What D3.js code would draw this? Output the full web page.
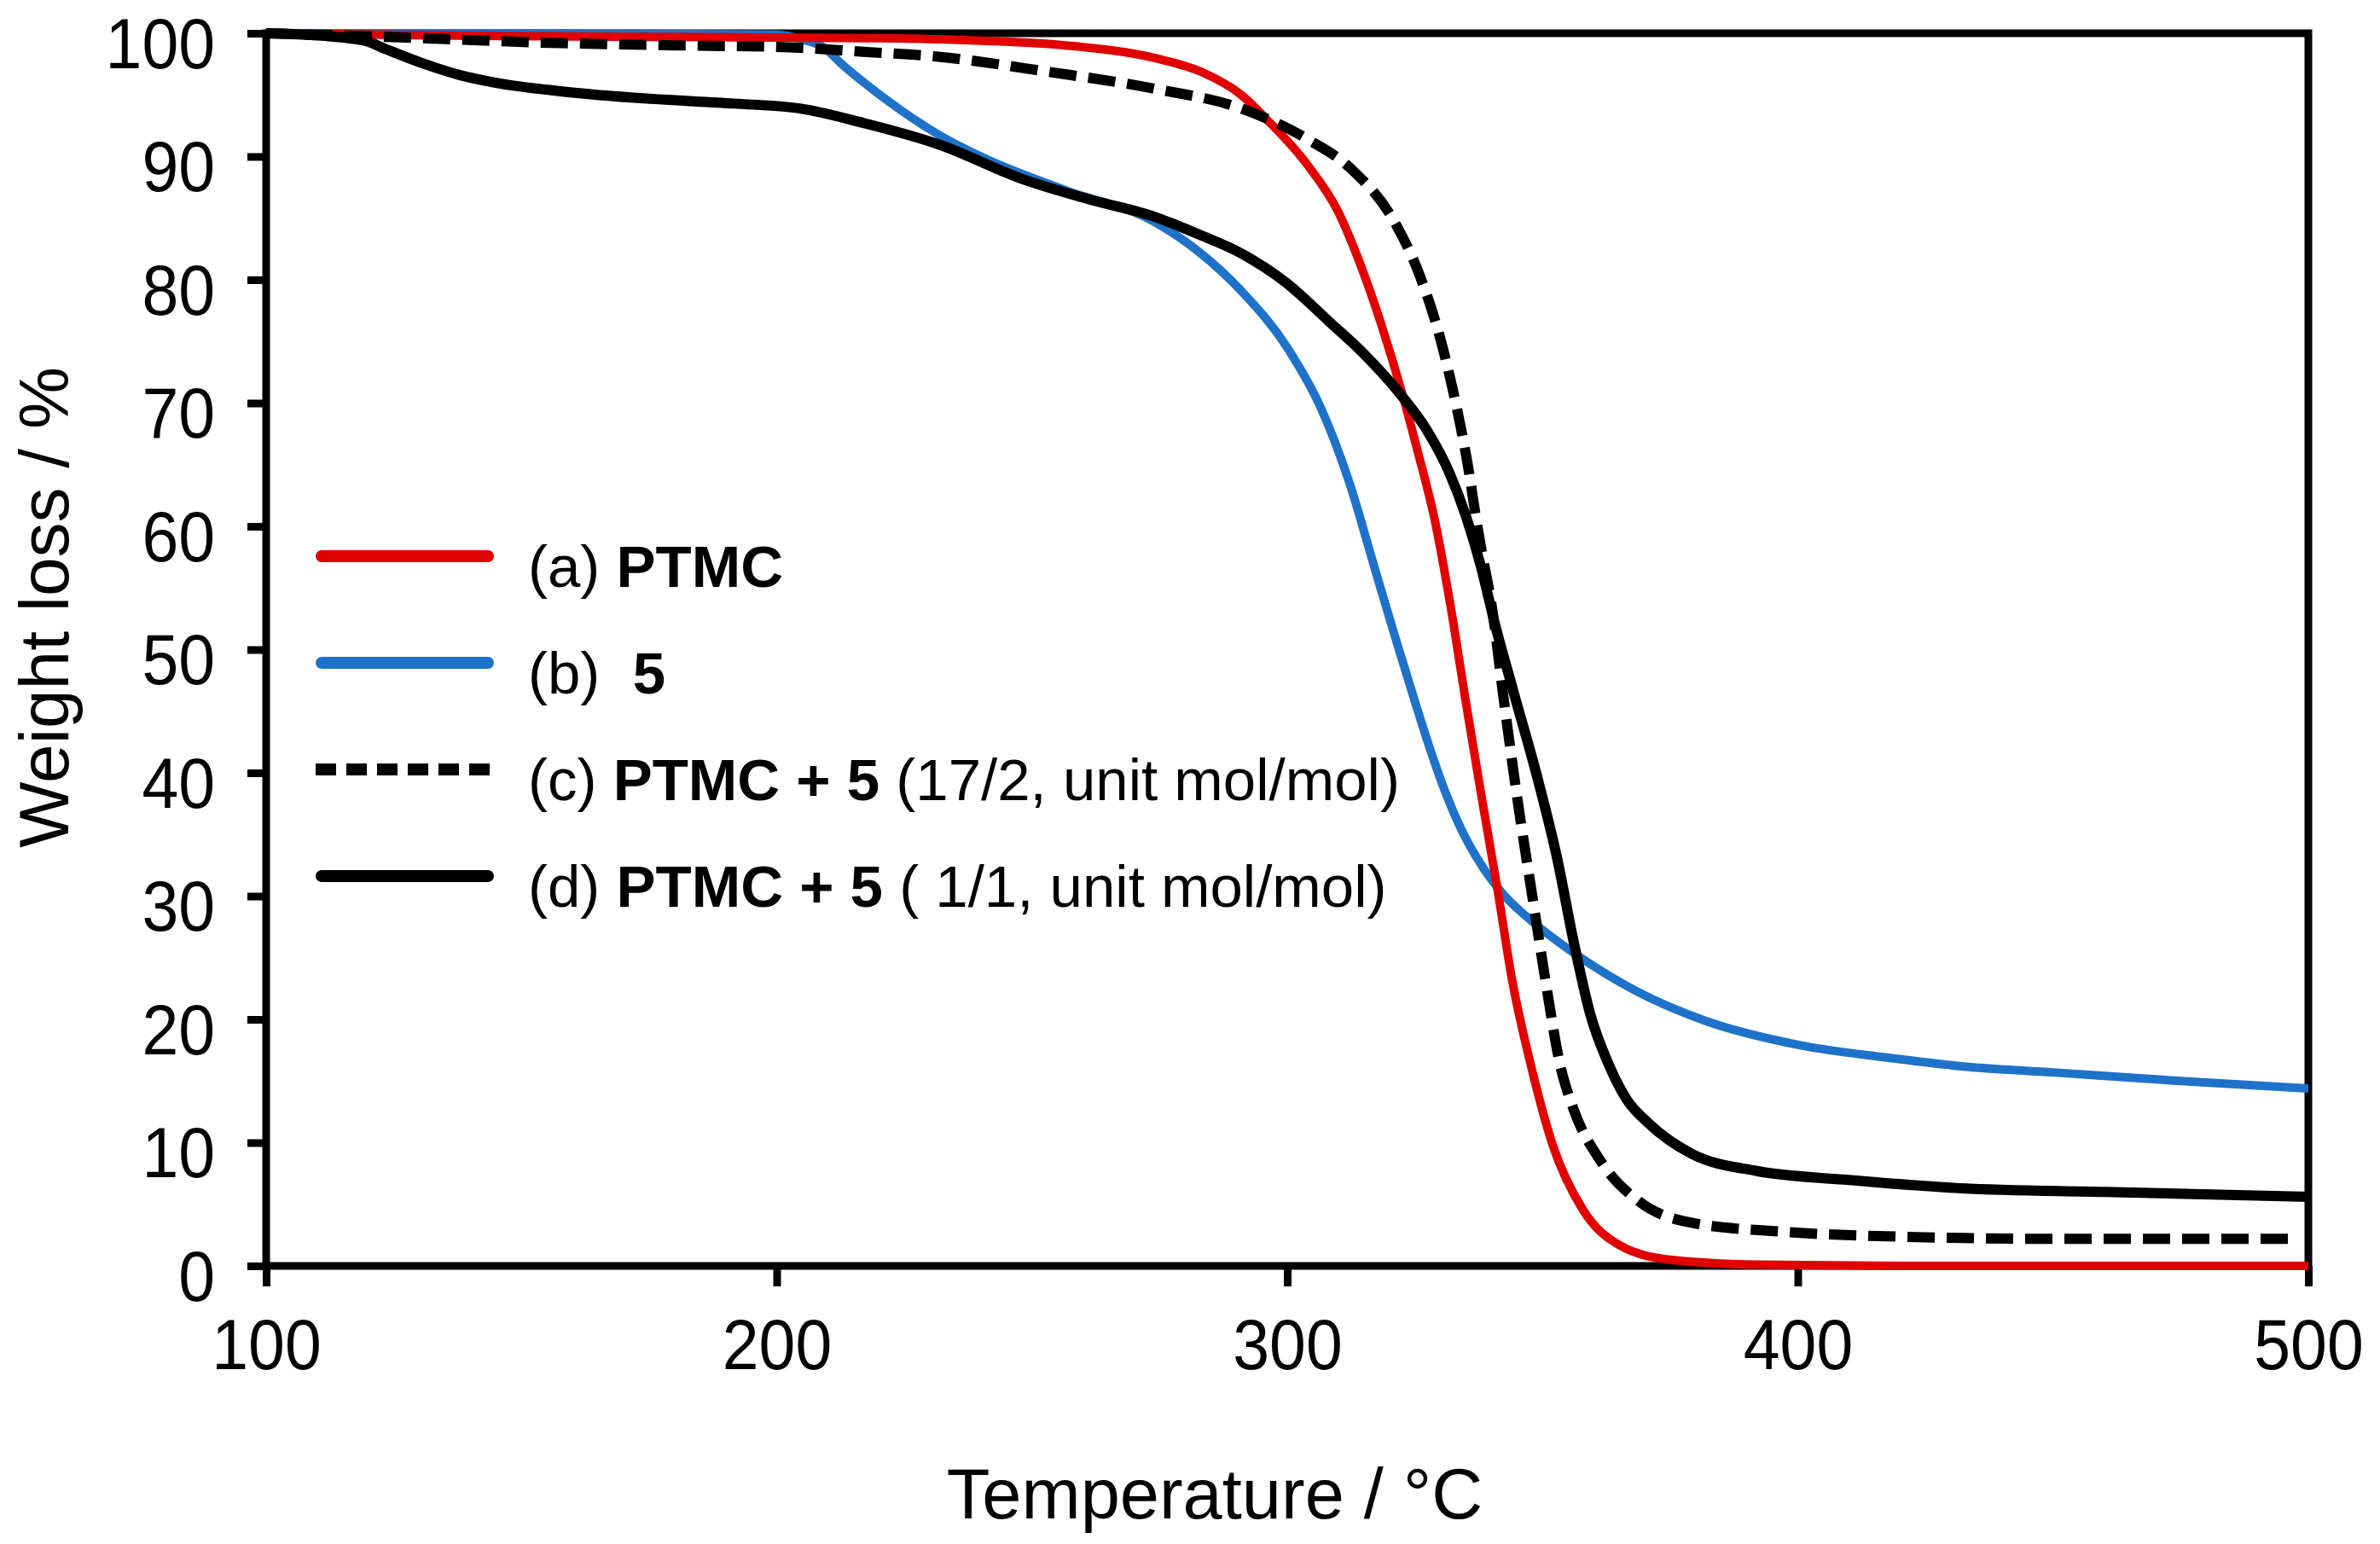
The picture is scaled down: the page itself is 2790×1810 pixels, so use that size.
<!DOCTYPE html>
<html>
<head>
<meta charset="utf-8">
<script src="https://cdn.jsdelivr.net/npm/d3@7"></script>
<style>
  body { margin: 0; background: #fff; }
  text { font-family: "Liberation Sans", Arial, sans-serif; fill: #000; }
</style>
</head>
<body>
<script>
// TGA curves

// (a) PTMC
var tempA   = [100, 140, 180, 220, 240, 257, 274, 283, 291, 296, 304, 310, 314, 318.4, 322.9, 325.6, 329, 332, 335, 338, 341.2, 344, 348, 352, 358, 365, 375, 392, 420, 460, 500]
var weightA = [100, 99.8, 99.7, 99.6, 99.4, 99.0, 98.0, 96.9, 95.0, 93.0, 89.3, 85.5, 81.6, 76.4, 70.2, 66.0, 60.3, 53.5, 45.7, 38.2, 30.5, 23.3, 15.8, 9.8, 4.5, 1.7, 0.5, 0.1, 0.0, 0.0, 0.0]

// (b) 5
var tempB   = [100, 150, 200, 205, 209, 213, 221.5, 231.6, 240, 257, 274, 282.6, 291, 300, 306.7, 312.2, 317.2, 321, 325, 328, 331, 334, 337.9, 342, 348.4, 356.8, 367.9, 381.8, 400.5, 417.5, 432, 450, 475, 500]
var weightB = [100, 100, 99.9, 99.5, 98.9, 97.4, 94.6, 91.8, 90.0, 87.2, 84.7, 82.3, 79.1, 74.5, 69.5, 63.5, 56.5, 51.2, 45.8, 41.9, 38.4, 35.5, 32.6, 30.3, 27.8, 25.2, 22.4, 19.9, 17.9, 16.9, 16.2, 15.7, 15.0, 14.4]

// (c) PTMC + 5, 17/2
var tempC   = [100, 123.5, 157.6, 183, 200, 217, 231.6, 252.8, 274, 291, 304, 312.5, 321, 326, 330, 332.2, 334, 335.6, 336.7, 337.9, 340.1, 342.3, 345, 348, 350.6, 353.4, 356, 361.4, 369, 379.2, 396, 417.5, 450, 498]
var weightC = [100, 99.7, 99.2, 99.0, 98.9, 98.5, 98.1, 96.9, 95.5, 93.9, 91.4, 89.0, 84.7, 80.3, 75.2, 71.5, 68.0, 64.4, 61.4, 58.4, 53.4, 46.3, 38.1, 30.0, 23.1, 16.4, 12.8, 8.5, 5.2, 3.5, 2.8, 2.4, 2.2, 2.2]

// (d) PTMC + 5, 1/1
var tempD   = [100, 110.8, 119.3, 123.5, 130.4, 138, 144.8, 157.6, 174.6, 191.6, 204.5, 217.2, 231.6, 248.6, 261.4, 274.1, 282.6, 291.2, 299.7, 308.5, 315, 322.2, 327.2, 331.7, 335.1, 337.9, 340.6, 344.3, 349, 352.9, 356, 359.3, 362.9, 366.5, 370.7, 379.2, 392, 409, 432, 460, 500]
var weightD = [100, 99.8, 99.4, 98.7, 97.6, 96.6, 96.0, 95.3, 94.7, 94.3, 93.9, 92.7, 91.0, 88.1, 86.5, 85.1, 83.7, 82.1, 79.8, 76.5, 74.0, 70.7, 67.9, 64.4, 60.7, 56.8, 52.2, 46.6, 39.6, 33.0, 26.5, 20.5, 16.4, 13.5, 11.6, 9.1, 7.7, 7.0, 6.3, 6.0, 5.6]

var xTicks = [100, 200, 300, 400, 500]
var yTicks = [0, 10, 20, 30, 40, 50, 60, 70, 80, 90, 100]

// legend text: regular prefix, bold part, regular suffix
var legendPre  = ["(a) ", "(b)  ", "(c) ", "(d) "]
var legendBold = ["PTMC", "5", "PTMC + 5", "PTMC + 5"]
var legendPost = ["", "", " (17/2, unit mol/mol)", " ( 1/1, unit mol/mol)"]

var xTitle = "Temperature / °C"
var yTitle = "Weight loss / %"

window.onload = function() {
    var series = [
        {temp: tempA, weight: weightA, color: "#e10000", width: 10, dash: null},
        {temp: tempB, weight: weightB, color: "#1f72c9", width: 10, dash: null},
        {temp: tempC, weight: weightC, color: "#000", width: 12, dash: "32,14"},
        {temp: tempD, weight: weightD, color: "#000", width: 12, dash: null}
    ]
    makeChart(series)
}

const makeChart = function(series) {
    var width = 2790
    var height = 1810

    var pad = {left: 312, right: 84, top: 39, bottom: 326}

    var svg = d3.select("body")
                .append("svg")
                .attr("width", width)
                .attr("height", height)

    var x = d3.scaleLinear()
              .domain([100, 500])
              .range([pad.left, width - pad.right])

    var y = d3.scaleLinear()
              .domain([0, 100])
              .range([height - pad.bottom, pad.top])

    // axes, ticks pointing outward
    var xAxis = svg.append("g")
                   .attr("transform", "translate(0," + y(0) + ")")
                   .call(d3.axisBottom(x).tickValues(xTicks).tickSize(24).tickPadding(32).tickSizeOuter(0))
    var yAxis = svg.append("g")
                   .attr("transform", "translate(" + x(100) + ",0)")
                   .call(d3.axisLeft(y).tickValues(yTicks).tickSize(22).tickPadding(38).tickSizeOuter(0))

    ;[xAxis, yAxis].forEach(function(ax) {
        ax.select(".domain").remove()
        ax.selectAll(".tick line").attr("stroke", "#000").attr("stroke-width", 9)
        // the digits in the picture are a little taller than wide
        ax.selectAll(".tick text")
          .attr("font-size", 77)
          .attr("fill", "#000")
          .attr("transform", "scale(1,1.09)")
    })
    yAxis.selectAll(".tick text").attr("dy", "0.48em")

    // frame
    svg.append("rect")
       .attr("x", x(100))
       .attr("y", y(100))
       .attr("width", x(500) - x(100))
       .attr("height", y(0) - y(100))
       .attr("fill", "none")
       .attr("stroke", "#000")
       .attr("stroke-width", 9)

    var line = d3.line()
                 .x(function(d) { return x(d[0]) })
                 .y(function(d) { return y(d[1]) })
                 .curve(d3.curveMonotoneX)

    // draw order: blue, red, dashed, black
    var order = [1, 0, 2, 3]
    order.forEach(function(i) {
        var s = series[i]
        var pts = d3.zip(s.temp, s.weight)
        var p = svg.append("path")
                   .datum(pts)
                   .attr("d", line)
                   .attr("fill", "none")
                   .attr("stroke", s.color)
                   .attr("stroke-width", s.width)
                   .attr("stroke-linejoin", "round")
        if (s.dash) p.attr("stroke-dasharray", s.dash)
    })

    // legend
    var legY0 = 652
    var legStep = 125
    series.forEach(function(s, i) {
        var ly = legY0 + i * legStep
        var l = svg.append("line")
                   .attr("x1", 377).attr("x2", 572)
                   .attr("y1", ly).attr("y2", ly)
                   .attr("stroke", s.color)
                   .attr("stroke-width", 14)
                   .attr("stroke-linecap", "round")
        if (s.dash) l.attr("stroke-dasharray", "24,12").attr("stroke-linecap", "butt").attr("x1", 370).attr("x2", 580)

        var t = svg.append("text")
                   .attr("x", 619)
                   .attr("y", ly + 36)
                   .attr("font-size", 69)
                   .attr("xml:space", "preserve")
                   .style("white-space", "pre")
        t.append("tspan").text(legendPre[i])
        t.append("tspan").attr("font-weight", "bold").text(legendBold[i])
        t.append("tspan").text(legendPost[i])
    })

    // axis titles
    svg.append("text")
       .attr("x", 1424)
       .attr("y", 1780)
       .attr("text-anchor", "middle")
       .attr("font-size", 83)
       .text(xTitle)

    svg.append("text")
       .attr("transform", "translate(80,712) rotate(-90)")
       .attr("text-anchor", "middle")
       .attr("font-size", 82)
       .text(yTitle)
}
</script>
</body>
</html>
